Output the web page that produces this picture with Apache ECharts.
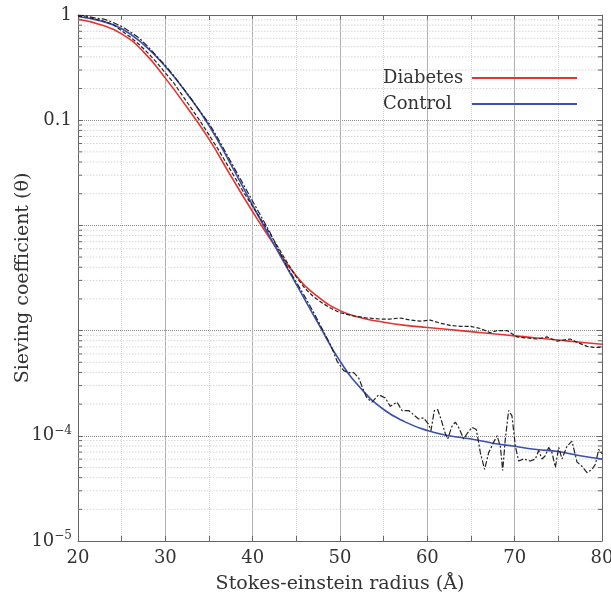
<!DOCTYPE html>
<html><head><meta charset="utf-8">
<script src="https://cdn.jsdelivr.net/npm/echarts@6/dist/echarts.min.js"></script>
<style>html,body{margin:0;padding:0;background:#fff}#c{width:611px;height:597px}</style>
</head><body><div id="c"></div>
<script>
// x positions of the fitted model curves (Å)
const fitX = [20,22.5,25,27.5,30,32.5,35,37.5,40,42.5,45,47.5,50,52.5,55,57.5,60,62.5,65,67.5,70,72.5,75,77.5,80];
// log10 of sieving coefficient
const diabetesFitLog10 = [-0.04,-0.09,-0.18,-0.35,-0.60,-0.88,-1.18,-1.53,-1.87,-2.19,-2.48,-2.68,-2.81,-2.88,-2.92,-2.95,-2.97,-2.99,-3.01,-3.03,-3.05,-3.07,-3.09,-3.11,-3.13];
const controlFitLog10 = [-0.015,-0.055,-0.13,-0.28,-0.49,-0.75,-1.05,-1.42,-1.81,-2.19,-2.56,-2.93,-3.29,-3.56,-3.75,-3.87,-3.95,-4.00,-4.03,-4.07,-4.10,-4.13,-4.15,-4.19,-4.22];

// measured data (dashed black)
const diabetesDataX = [20,21,22,23,24,25,26,27,28,29,30,31,32,33,34,35,36,37,38,39,40,41,42,43,44,45,46,47,48,49,
  50,51.56,53.09,54.62,55.76,56.9,58.05,59.2,60.34,61.49,62.63,63.78,64.92,66.07,67.21,67.98,69.12,70.27,71.41,72.56,73.7,74.85,75.61,76.37,77.14,78.28,79.05,80];
const diabetesDataLog10 = [-0.01,-0.02,-0.04,-0.06,-0.09,-0.15,-0.21,-0.28,-0.36,-0.45,-0.55,-0.65,-0.77,-0.89,-1.01,-1.14,-1.27,-1.41,-1.55,-1.69,-1.82,-1.95,-2.08,-2.22,-2.36,-2.49,-2.6,-2.68,-2.74,-2.79,
  -2.83,-2.86,-2.88,-2.89,-2.89,-2.88,-2.90,-2.91,-2.90,-2.93,-2.95,-2.96,-2.96,-2.98,-3.02,-3.00,-3.00,-3.06,-3.07,-3.08,-3.06,-3.10,-3.09,-3.08,-3.11,-3.15,-3.16,-3.16];

// measured data (dash-dot black)
const controlDataX = [20,21,22,23,24,25,26,27,28,29,30,31,32,33,34,35,36,37,38,39,40,41,42,43,44,45,46,47,48,49,
  49.66,50.42,50.99,51.56,52.14,52.71,53.09,53.66,54.43,55.19,55.76,56.53,57.1,57.86,58.44,59.0,59.58,60.15,60.42,60.8,61.18,61.56,62.06,62.33,62.82,63.21,63.59,64.16,64.54,65.11,65.61,66.07,66.56,67.02,67.6,67.98,68.36,68.63,68.93,69.31,69.69,70.08,70.46,71.03,71.79,72.37,72.75,73.13,73.51,73.89,74.27,74.66,75.04,75.42,75.99,76.56,77.14,77.71,78.28,78.85,79.24,79.62,80];
const controlDataLog10 = [0,-0.01,-0.03,-0.04,-0.07,-0.11,-0.16,-0.22,-0.3,-0.39,-0.48,-0.58,-0.69,-0.8,-0.92,-1.03,-1.17,-1.32,-1.47,-1.62,-1.77,-1.92,-2.07,-2.24,-2.40,-2.54,-2.68,-2.83,-2.99,-3.15,
  -3.29,-3.38,-3.40,-3.40,-3.45,-3.57,-3.64,-3.68,-3.61,-3.64,-3.72,-3.68,-3.76,-3.76,-3.80,-3.84,-3.83,-3.89,-3.95,-3.76,-3.75,-3.84,-3.98,-4.03,-3.91,-3.87,-3.92,-4.03,-3.98,-3.92,-3.94,-4.16,-4.32,-4.16,-4.06,-4.00,-4.10,-4.33,-4.03,-3.76,-3.81,-4.10,-4.24,-4.22,-4.24,-4.22,-4.14,-4.22,-4.19,-4.11,-4.16,-4.30,-4.11,-4.22,-4.10,-4.05,-4.25,-4.29,-4.35,-4.32,-4.27,-4.13,-4.17];

// tick labels by decade exponent
const yTickLabels = {'0':'1','-1':'0.1','-2':'','-3':'','-4':'{b|10}{s|−4}','-5':'{b|10}{s|−5}'};

// minor decade grid values (2..9 × 10^k)
const decades = [-5,-4,-3,-2,-1];
const minorMultipliers = [2,3,4,5,6,7,8,9];
const minorY = [];
decades.forEach(d => minorMultipliers.forEach(m => minorY.push([20, m * Math.pow(10, d)])));

function pairs(xs, logs){ return xs.map((x,i)=>[x, Math.pow(10, logs[i])]); }

const FONT = 'DejaVu Serif';
const chart = echarts.init(document.getElementById('c'));
chart.setOption({
  animation:false,
  backgroundColor:'#fff',
  grid:{left:78, right:9, top:15, bottom:56, containLabel:false, outerBoundsMode:'none'},
  legend:{
    data:['Diabetes','Control'], orient:'vertical', left:378, top:64, align:'right',
    icon:'rect', itemWidth:105, itemHeight:2, itemGap:8, selectedMode:false,
    formatter:'{n|{name}}',
    textStyle:{fontFamily:FONT, fontSize:18, color:'#333', rich:{n:{width:84, align:'left', fontFamily:FONT, fontSize:18, color:'#333', lineHeight:22}}}
  },
  xAxis:[{
    type:'value', min:20, max:80, interval:10,
    name:'Stokes-einstein radius (Å)', nameLocation:'middle', nameGap:34,
    nameTextStyle:{fontFamily:FONT, fontSize:19, color:'#333'},
    axisLine:{show:true, lineStyle:{color:'#666', width:1}},
    axisTick:{show:true, inside:true, length:5, lineStyle:{color:'#666'}},
    minorTick:{show:true, splitNumber:2, length:5, lineStyle:{color:'#666'}},
    axisLabel:{fontFamily:FONT, fontSize:18, color:'#333', margin:8},
    splitLine:{show:true, lineStyle:{color:'#b0b0b0', width:1, type:'solid'}},
    minorSplitLine:{show:true, lineStyle:{color:'#d6d6d6', width:1, type:'dotted'}}
  },{
    type:'value', min:20, max:80, interval:10, position:'top',
    axisLine:{show:true, lineStyle:{color:'#666'}},
    axisTick:{show:true, inside:true, length:5, lineStyle:{color:'#666'}},
    minorTick:{show:true, splitNumber:2, length:5, lineStyle:{color:'#666'}},
    axisLabel:{show:false}, splitLine:{show:false}
  }],
  yAxis:[{
    type:'log', logBase:10, min:0.00001, max:1,
    name:'Sieving coefficient (θ)', nameLocation:'middle', nameGap:45, nameMoveOverlap:false,
    nameTextStyle:{fontFamily:FONT, fontSize:19, color:'#333'},
    axisLine:{show:true, lineStyle:{color:'#666'}},
    axisTick:{show:true, inside:true, length:5, lineStyle:{color:'#666'}},
    axisLabel:{fontFamily:FONT, fontSize:18, color:'#333', margin:6,
      formatter:v => { const e = Math.round(Math.log10(v)); const t = yTickLabels[String(e)]; return t === undefined ? '' : t; },
      rich:{b:{fontFamily:FONT, fontSize:18, color:'#333'}, s:{fontFamily:FONT, fontSize:12, color:'#333', verticalAlign:'top', padding:[0,0,10,0]}}
    },
    splitLine:{show:true, lineStyle:{color:'#8a8a8a', width:1, type:'dotted'}}
  },{
    type:'log', logBase:10, min:0.00001, max:1, position:'right',
    axisLine:{show:true, lineStyle:{color:'#666'}},
    axisTick:{show:true, inside:true, length:5, lineStyle:{color:'#666'}},
    axisLabel:{show:false}, splitLine:{show:false}
  }],
  series:[
    {
      type:'custom', name:'minorGrid', silent:true, z:1, xAxisIndex:0, yAxisIndex:0,
      data:minorY,
      renderItem:(params, api) => {
        const y = api.coord([20, api.value(1)])[1];
        const cs = params.coordSys;
        const x0 = cs.x, x1 = cs.x + cs.width;
        return {type:'group', children:[
          {type:'line', shape:{x1:x0, y1:y, x2:x1, y2:y}, style:{stroke:'#d6d6d6', lineWidth:1, lineDash:[1.5,1.5]}},
          {type:'line', shape:{x1:x0, y1:y, x2:x0+4, y2:y}, style:{stroke:'#666', lineWidth:1}},
          {type:'line', shape:{x1:x1-4, y1:y, x2:x1, y2:y}, style:{stroke:'#666', lineWidth:1}}
        ]};
      }
    },
    {name:'Diabetes', type:'line', smooth:true, symbol:'none', z:3, data:pairs(fitX, diabetesFitLog10), lineStyle:{color:'#e8322e', width:1.6}, itemStyle:{color:'#e8322e'}},
    {name:'Control', type:'line', smooth:true, symbol:'none', z:3, data:pairs(fitX, controlFitLog10), lineStyle:{color:'#3c50b0', width:1.6}, itemStyle:{color:'#3c50b0'}},
    {name:'Diabetes data', type:'line', symbol:'none', z:4, data:pairs(diabetesDataX, diabetesDataLog10), lineStyle:{color:'#222', width:1.2, type:[4,2]}},
    {name:'Control data', type:'line', symbol:'none', z:4, data:pairs(controlDataX, controlDataLog10), lineStyle:{color:'#222', width:1.2, type:[6,2,2,2]}}
  ]
});
</script></body></html>
